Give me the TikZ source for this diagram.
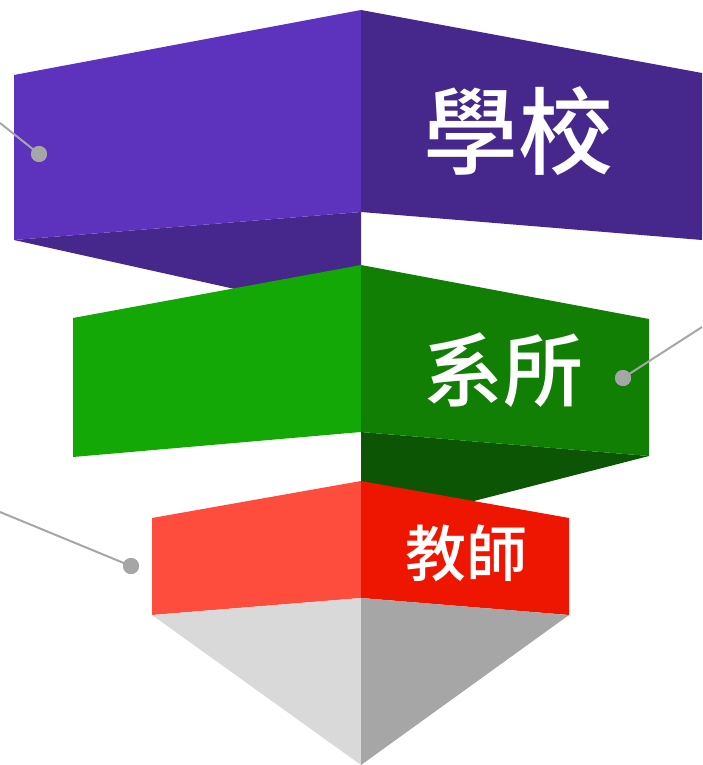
\documentclass[tikz,border=0pt]{standalone}
\usepackage{fontspec}
\newfontfamily\cjk{Noto Sans CJK TC Medium}
\definecolor{purL}{HTML}{5D33BD}
\definecolor{purR}{HTML}{46288C}
\definecolor{grnL}{HTML}{14A806}
\definecolor{grnR}{HTML}{117F04}
\definecolor{grnU}{HTML}{0B5504}
\definecolor{redL}{HTML}{FF4D3D}
\definecolor{redR}{HTML}{EE1600}
\definecolor{gryL}{HTML}{D9D9D9}
\definecolor{gryR}{HTML}{A6A6A6}
\definecolor{conn}{HTML}{A6A6A6}
\tikzset{
  dot/.style={circle,fill=conn,inner sep=0pt,minimum size=16pt},
  connline/.style={draw=conn,line width=2pt},
  lbl/.style={text=white,font=\cjk},
}
\begin{document}
\begin{tikzpicture}[x=1pt,y=-1pt]
\useasboundingbox (0,0) rectangle (702,765);
% purple block
\fill[purR] (14,240) -- (361,212) -- (361,317) -- cycle;
\fill[purL] (14,75) -- (361,10) -- (361,212) -- (14,240) -- cycle;
\fill[purR] (361,10) -- (702,73) -- (702,240) -- (361,212) -- cycle;
% green block
\fill[grnU] (361,432) -- (649,456) -- (361,530) -- cycle;
\fill[grnL] (73,318) -- (361,265) -- (361,432) -- (73,457) -- cycle;
\fill[grnR] (361,265) -- (649,319) -- (649,456) -- (361,432) -- cycle;
% red block
\fill[redL] (152,518) -- (361,481) -- (361,598) -- (152,615) -- cycle;
\fill[redR] (361,481) -- (569,518) -- (569,615) -- (361,598) -- cycle;
% gray tip
\fill[gryL] (152,615) -- (361,598) -- (361,765) -- cycle;
\fill[gryR] (361,598) -- (569,615) -- (361,765) -- cycle;
% labels
\node[lbl,font=\cjk\fontsize{95}{100}\selectfont] (t1) at (518,131) {學校};
\node[lbl,font=\cjk\fontsize{80}{84}\selectfont] (t2) at (503,370) {系所};
\node[lbl,font=\cjk\fontsize{61}{64}\selectfont] (t3) at (466,553) {教師};
% connectors
\coordinate (e1) at (0,123);
\coordinate (e2) at (702,327);
\coordinate (e3) at (0,512);
\node[dot] (d1) at (39,154) {};
\node[dot] (d2) at (623,378) {};
\node[dot] (d3) at (131,566) {};
\draw[connline] (e1) -- (d1.center);
\draw[connline] (e2) -- (d2.center);
\draw[connline] (e3) -- (d3.center);
\node[dot] at (d1) {};
\node[dot] at (d2) {};
\node[dot] at (d3) {};
\end{tikzpicture}
\end{document}
